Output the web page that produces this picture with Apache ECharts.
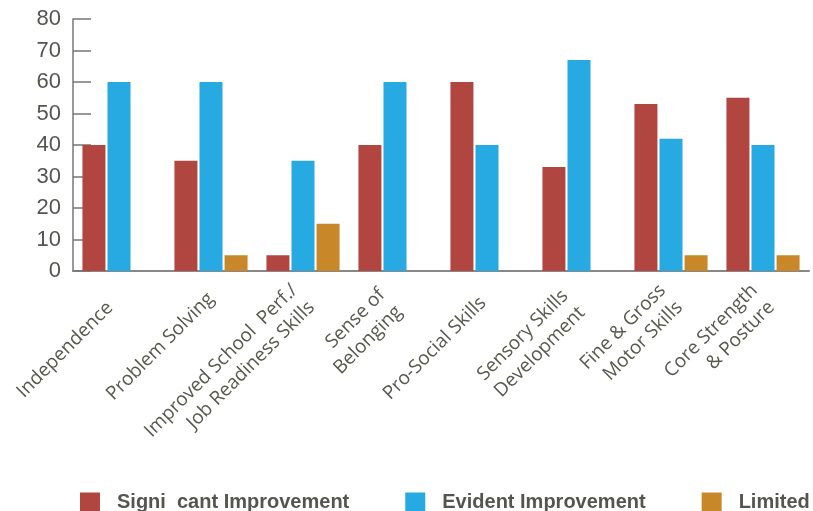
<!DOCTYPE html>
<html>
<head>
<meta charset="utf-8">
<script src="https://cdn.jsdelivr.net/npm/echarts@6/dist/echarts.min.js"></script>
<style>
html,body{margin:0;padding:0;background:#fff;}
#chart{width:813px;height:511px;}
</style>
</head>
<body>
<div id="chart"></div>
<script>
var categories = [
  'Independence',
  'Problem Solving',
  'Improved School  Perf./\nJob Readiness Skills',
  'Sense of\nBelonging',
  'Pro-Social Skills',
  'Sensory Skills\nDevelopment',
  'Fine & Gross\nMotor Skills',
  'Core Strength\n& Posture'
];
var seriesNames = ['Signi  cant Improvement', 'Evident Improvement', 'Limited'];
var significant = [40, 35, 5, 40, 60, 33, 53, 55];
var evident = [60, 60, 35, 60, 40, 67, 42, 40];
var limited = [0, 5, 15, 0, 0, 0, 5, 5];
var yTicks = [0, 10, 20, 30, 40, 50, 60, 70, 80];

// horizontal nudge (px, leftwards) for individual rotated labels
var labelNudge = [18, 0, 0, 9, 8, 11, 0, 0];

var colors = ['#b0463f', '#27a9e1', '#c8882a'];
var chart = echarts.init(document.getElementById('chart'));

var xData = categories.map(function (c, i) {
  var p = labelNudge[i] / 1.414;
  return { value: c, textStyle: { padding: [0, p, 2 * p, 0] } };
});

chart.setOption({
  animation: false,
  color: colors,
  grid: { left: 73, right: 4, top: 19, bottom: 240, containLabel: false },
  legend: {
    left: 80,
    top: 492,
    width: 733,
    padding: 0,
    itemWidth: 20,
    itemHeight: 19,
    itemGap: 56,
    icon: 'rect',
    data: seriesNames,
    textStyle: {
      fontFamily: 'Liberation Sans',
      fontWeight: 'bold',
      fontSize: 20,
      color: '#555550',
      padding: [0, 0, 0, 12]
    }
  },
  xAxis: {
    type: 'category',
    data: xData,
    boundaryGap: true,
    axisLine: { lineStyle: { color: '#888', width: 2 } },
    axisTick: { inside: true, length: 7, lineStyle: { color: '#666', width: 1.5 } },
    axisLabel: {
      rotate: 45,
      interval: 0,
      margin: 25,
      fontFamily: 'Open Sans',
      fontSize: 19,
      lineHeight: 24,
      color: '#58584f'
    }
  },
  yAxis: {
    type: 'value',
    min: yTicks[0],
    max: yTicks[yTicks.length - 1],
    interval: 10,
    axisLine: { show: true, lineStyle: { color: '#777', width: 1.5 } },
    axisTick: { show: true, inside: true, length: 18, lineStyle: { color: '#777', width: 1.5 } },
    splitLine: { show: false },
    axisLabel: {
      margin: 12,
      fontFamily: 'Liberation Sans',
      fontSize: 22,
      color: '#555550'
    }
  },
  series: [
    { name: seriesNames[0], type: 'bar', data: significant, barWidth: 23, barGap: '9%' },
    { name: seriesNames[1], type: 'bar', data: evident, barWidth: 23, barGap: '9%' },
    { name: seriesNames[2], type: 'bar', data: limited, barWidth: 23, barGap: '9%' }
  ]
});
</script>
</body>
</html>
